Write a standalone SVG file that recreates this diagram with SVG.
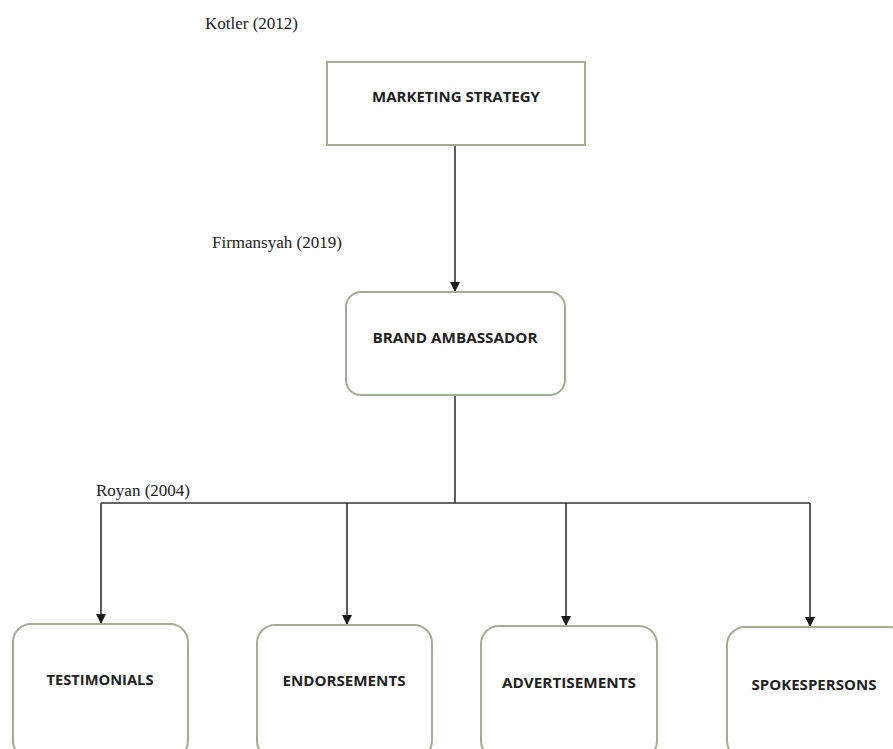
<svg xmlns="http://www.w3.org/2000/svg" width="893" height="749" viewBox="0 0 893 749">
<defs>
<marker id="ah" markerWidth="10" markerHeight="10" refX="10" refY="5" orient="auto" markerUnits="userSpaceOnUse" viewBox="0 0 10 10">
<path d="M0,0 L10,5 L0,10 Z" fill="#1a1a1a"/>
</marker>
<style>
.box{fill:#ffffff;stroke:#a3ad92;stroke-width:2}
.lbl{font-family:"Open Sans","Liberation Sans",sans-serif;font-weight:bold;font-size:13.5px;fill:#222;text-anchor:middle}
.ref{font-family:"Liberation Serif","Times New Roman",serif;font-size:17px;fill:#222}
.ln{stroke:#333;stroke-width:1.6;fill:none}
</style>
</defs>
<rect width="893" height="749" fill="#ffffff"/>
<text class="ref" x="205" y="29">Kotler (2012)</text>
<text class="ref" x="212" y="248">Firmansyah (2019)</text>
<text class="ref" x="96" y="496">Royan (2004)</text>
<g id="connectors">
<line class="ln" x1="455" y1="145" x2="455" y2="292" marker-end="url(#ah)"/>
<polyline class="ln" points="455,395 455,503"/>
<line class="ln" x1="101" y1="503" x2="810" y2="503"/>
<line class="ln" x1="101" y1="503" x2="101" y2="624" marker-end="url(#ah)"/>
<line class="ln" x1="347" y1="503" x2="347" y2="625" marker-end="url(#ah)"/>
<line class="ln" x1="566" y1="503" x2="566" y2="626" marker-end="url(#ah)"/>
<line class="ln" x1="810" y1="503" x2="810" y2="627" marker-end="url(#ah)"/>
</g>
<g id="marketing-strategy">
<rect class="box" x="327" y="62" width="258" height="83"/>
<text class="lbl" x="456" y="102" textLength="168" lengthAdjust="spacingAndGlyphs">MARKETING STRATEGY</text>
</g>
<g id="brand-ambassador">
<rect class="box" x="346" y="292" width="219" height="103" rx="15"/>
<text class="lbl" x="455" y="343" textLength="165" lengthAdjust="spacingAndGlyphs">BRAND AMBASSADOR</text>
</g>
<g id="testimonials">
<rect class="box" x="13" y="624" width="175" height="135" rx="18"/>
<text class="lbl" x="100" y="685" textLength="107" lengthAdjust="spacingAndGlyphs">TESTIMONIALS</text>
</g>
<g id="endorsements">
<rect class="box" x="257" y="625" width="175" height="134" rx="18"/>
<text class="lbl" x="344" y="686" textLength="123" lengthAdjust="spacingAndGlyphs">ENDORSEMENTS</text>
</g>
<g id="advertisements">
<rect class="box" x="481" y="626" width="176" height="133" rx="18"/>
<text class="lbl" x="569" y="688" textLength="134" lengthAdjust="spacingAndGlyphs">ADVERTISEMENTS</text>
</g>
<g id="spokespersons">
<rect class="box" x="727" y="627" width="180" height="132" rx="18"/>
<text class="lbl" x="814" y="690" textLength="125" lengthAdjust="spacingAndGlyphs">SPOKESPERSONS</text>
</g>
</svg>
